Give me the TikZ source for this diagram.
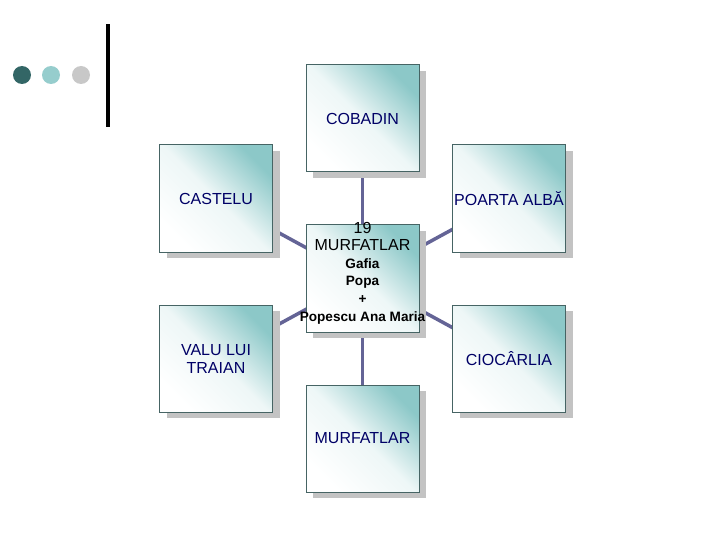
\documentclass[tikz,border=0pt]{standalone}
\usepackage{fontspec}
\setmainfont{Liberation Sans}
\usepackage{tikz}
\usetikzlibrary{shadows,backgrounds}
\definecolor{navy}{RGB}{0,0,102}
\definecolor{tealfill}{RGB}{140,200,200}
\definecolor{boxline}{RGB}{70,100,100}
\definecolor{shadowgray}{RGB}{195,195,195}
\definecolor{linkcol}{RGB}{100,100,150}
\definecolor{dotdark}{RGB}{51,102,102}
\definecolor{dotlight}{RGB}{150,205,205}
\definecolor{dotgray}{RGB}{200,200,200}

\begin{document}
\begin{tikzpicture}[x=1pt,y=-1pt]
\tikzset{place/.style = {shape=rectangle,draw=boxline,line width=1pt,
minimum width=113pt,minimum height=107pt,inner sep=0pt,
top color=tealfill,bottom color=white,middle color=white!85!tealfill,shading angle=-45,
drop shadow={shadow xshift=7pt,shadow yshift=-6pt,fill=shadowgray,opacity=1},
text=navy,align=center,font=\fontsize{16}{18}\selectfont}}
\tikzset{edge/.style = {draw=linkcol,line width=3.5pt}}
\tikzset{dot/.style = {shape=circle,minimum size=18pt,inner sep=0pt}}
\useasboundingbox (0,0) rectangle (720,540);
% decoration
\node[dot,fill=dotdark] (d1) at (22,75) {};
\node[dot,fill=dotlight] (d2) at (51,75) {};
\node[dot,fill=dotgray] (d3) at (81,75) {};
\fill[black] (106,24) rectangle (110,127);
% vertices
\node[place] (cobadin) at (362.5,118.5) {COBADIN};
\node[place] (castelu) at (216,198.5) {CASTELU};
\node[place] (poarta) at (509,198.5) {POARTA ALBĂ};
\node[place] (centru) at (362.5,278.5) {};
\node[place] (valu) at (216,358.5) {VALU LUI\\TRAIAN};
\node[place] (ciocarlia) at (509,358.5) {CIOCÂRLIA};
\node[place] (murfatlar) at (362.5,438.5) {MURFATLAR};
\node[align=center,text=black,font=\bfseries\fontsize{13.6}{17.6}\selectfont] (echipa) at (362.5,273)
  {{\mdseries\fontsize{16}{17.6}\selectfont 19}\\{\mdseries\fontsize{16}{17.6}\selectfont MURFATLAR}\\Gafia\\Popa\\+\\Popescu Ana Maria};
%edges
\begin{scope}[on background layer]
\draw[edge] (cobadin.center) to (centru.center);
\draw[edge] (castelu.center) to (centru.center);
\draw[edge] (poarta.center) to (centru.center);
\draw[edge] (valu.center) to (centru.center);
\draw[edge] (ciocarlia.center) to (centru.center);
\draw[edge] (murfatlar.center) to (centru.center);
\end{scope}
\end{tikzpicture}
\end{document}
